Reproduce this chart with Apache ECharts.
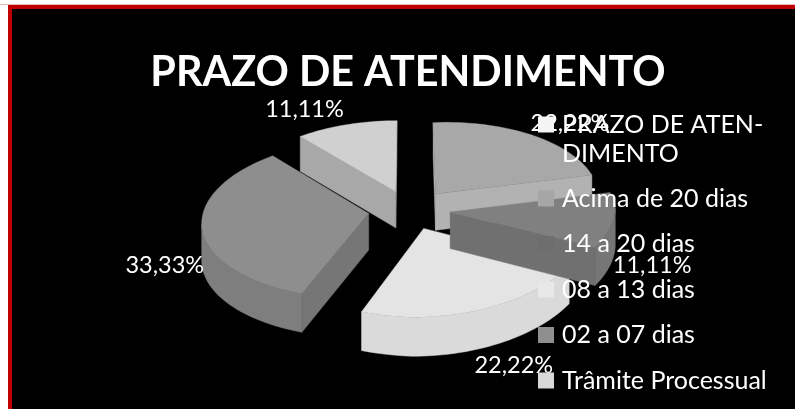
<!DOCTYPE html>
<html>
<head>
<meta charset="utf-8">
<style>html,body{margin:0;padding:0;background:#fff}#c{width:795px;height:409px}</style>
<script src="https://cdn.jsdelivr.net/npm/echarts@6/dist/echarts.min.js"></script>
</head>
<body>
<div id="c"></div>
<script>
const titleText = 'PRAZO DE ATENDIMENTO';
const categories = ['PRAZO DE ATENDIMENTO', 'Acima de 20 dias', '14 a 20 dias', '08 a 13 dias', '02 a 07 dias', 'Trâmite Processual'];
const shares = [0, 22.22, 11.11, 22.22, 33.33, 11.11];
const topColors = ['#f4f4f4', '#a8a8a8', '#808080', '#e4e4e4', '#8e8e8e', '#d0d0d0'];
const legendColors = ['#f4f4f4', '#a6a6a6', '#6e6e6e', '#e8e8e8', '#8f8f8f', '#d8d8d8'];
const rimColors = ['#f4f4f4', '#b0b0b0', '#767676', '#dadada', '#7e7e7e', '#b0b0b0'];
const faceColors = ['#f4f4f4', '#b2b2b2', '#707070', '#e0e0e0', '#767676', '#a8a8a8'];
const depthOrder = [0, 2, 4, 3, 5, 6];
const labelShift = [[0, 0], [22, 0], [6, 44], [19, 39], [-3, 35], [-33, -3]];

const view = {cx: 409.5, cy: 210, rx: 165, ry: 79, explode: 0.25, px: 0.1, py: 0.075, depth: 36.5, skew: 14, shear: 6};
const total = shares.reduce((a, b) => a + b, 0);
const starts = [];
shares.reduce((acc, v, i) => { starts[i] = acc; return acc + v / total * 360; }, 0);
const rad = d => d * Math.PI / 180;
function project(X, Z) {
  const fx = 1 / (1 - view.px * Z), fy = 1 / (1 - view.py * Z);
  return [
    view.cx + view.rx * X * fx - view.skew * Math.max(X, 0) * Math.max(Z, 0),
    view.cy + view.ry * Z * fy - view.shear * Math.max(X, 0),
    Math.sqrt(fx)
  ];
}
function sliceParts(i) {
  const a0 = starts[i], a1 = a0 + shares[i] / total * 360, mid = (a0 + a1) / 2;
  const ox = view.explode * Math.sin(rad(mid)), oz = -view.explode * Math.cos(rad(mid));
  const apex = project(ox, oz);
  const arc = [];
  const steps = Math.ceil((a1 - a0) / 2);
  for (let s = 0; s <= steps; s++) {
    const t = rad(a0 + (a1 - a0) * s / steps);
    arc.push(project(ox + Math.sin(t), oz - Math.cos(t)));
  }
  return {apex, arc, mid, ox, oz};
}
const drop = p => [p[0], p[1] + view.depth * p[2]];
const xy = p => [p[0], p[1]];
function wall(run, fill) {
  return {type: 'polygon', shape: {points: run.map(xy).concat(run.slice().reverse().map(drop))},
    style: {fill: fill, stroke: fill, lineWidth: 0.5}};
}
function renderSlice(i) {
  return function () {
    if (!shares[i]) return {type: 'group', children: []};
    const {apex, arc, ox, oz, mid} = sliceParts(i);
    const kids = [];
    const first = arc[0], last = arc[arc.length - 1];
    if (first[0] < apex[0] - 0.5) kids.push(wall([apex, first], faceColors[i]));
    if (apex[0] < last[0] - 0.5) kids.push(wall([last, apex], faceColors[i]));
    const rim = arc.filter((p, k) => (k < arc.length - 1 && arc[k + 1][0] < p[0]) || (k > 0 && p[0] < arc[k - 1][0]));
    if (rim.length > 1) kids.push(wall(rim, rimColors[i]));
    kids.push({type: 'polygon', shape: {points: [xy(apex)].concat(arc.map(xy))},
      style: {fill: topColors[i], stroke: topColors[i], lineWidth: 0.4}});
    const anchor = project(ox + Math.sin(rad(mid)) * 1.2, oz - Math.cos(rad(mid)) * 1.2);
    kids.push({type: 'text', z2: 50, style: {
      x: anchor[0] + labelShift[i][0], y: anchor[1] + labelShift[i][1],
      text: shares[i].toFixed(2).replace('.', ',') + '%',
      fill: '#fff', font: '23.5px Lato', align: 'center', verticalAlign: 'middle'}});
    return {type: 'group', children: kids};
  };
}
const series = categories.map((name, i) => ({
  name: name, type: 'custom', coordinateSystem: 'none', z: 2 + depthOrder[i] / 10,
  silent: true, animation: false,
  itemStyle: {color: legendColors[i]},
  renderItem: renderSlice(i),
  data: [[shares[i]]]
}));
const legendText = {color: '#fff', fontFamily: 'Lato', fontSize: 25, padding: [0, 0, 0, 3]};
const chart = echarts.init(document.getElementById('c'));
chart.setOption({
  animation: false,
  backgroundColor: '#fff',
  title: {text: titleText, left: 403, textAlign: 'center', top: 47,
    textStyle: {color: '#fff', fontFamily: 'Lato', fontWeight: 'bold', fontSize: 41.3}},
  legend: [
    {data: [categories[0]], orient: 'vertical', left: 538, top: 112, itemWidth: 16, itemHeight: 16, icon: 'rect',
      selectedMode: false, padding: 0, textStyle: legendText, formatter: () => 'PRAZO DE ATEN-'},
    {data: categories.slice(1), orient: 'vertical', left: 538, top: 186, itemGap: 20.5, itemWidth: 16, itemHeight: 16, icon: 'rect',
      selectedMode: false, padding: 0, textStyle: legendText}
  ],
  graphic: [
    {type: 'rect', z: -10, shape: {x: 0, y: 4, width: 795, height: 1}, style: {fill: '#e6b8b8'}},
    {type: 'rect', z: -9, shape: {x: 8, y: 5, width: 787, height: 404}, style: {fill: '#c00000'}},
    {type: 'rect', z: -8, shape: {x: 12, y: 9, width: 783, height: 400}, style: {fill: '#000'}},
    {type: 'text', z: 20, style: {x: 562, y: 154, text: 'DIMENTO', fill: '#fff', font: '25px Lato', verticalAlign: 'middle'}}
  ],
  series: series
});
</script>
</body>
</html>
